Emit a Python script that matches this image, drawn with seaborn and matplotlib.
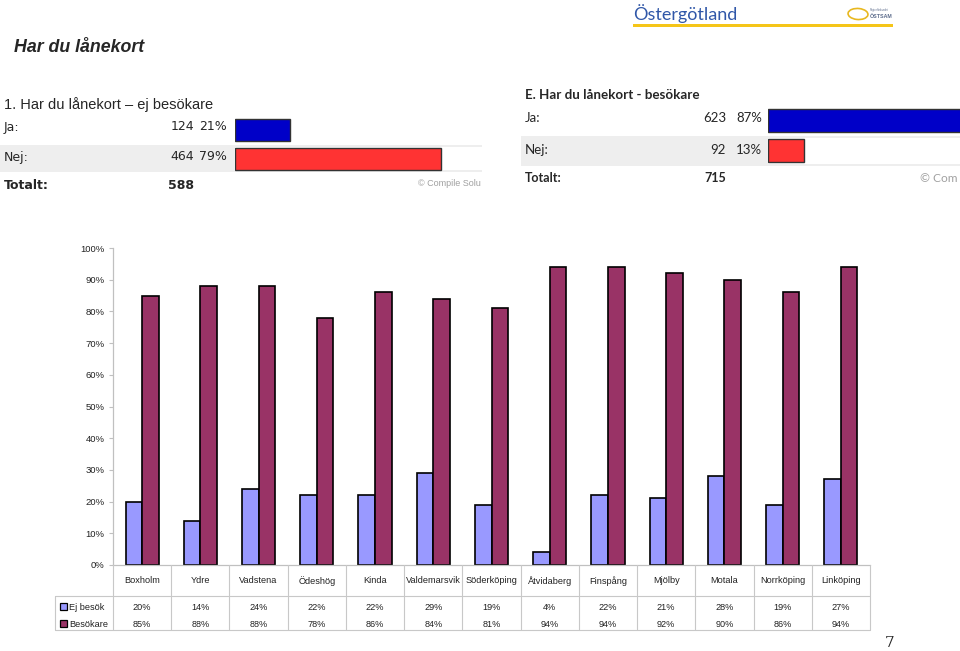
import numpy as np
import pandas as pd
import matplotlib
matplotlib.use("Agg")
import matplotlib.pyplot as plt
from matplotlib.patches import Rectangle, Ellipse
import seaborn as sns

# ---------------- data ----------------
categories = ["Boxholm", "Ydre", "Vadstena", "Ödeshög", "Kinda", "Valdemarsvik",
              "Söderköping", "Åtvidaberg", "Finspång", "Mjölby", "Motala",
              "Norrköping", "Linköping"]
ej_besok = [20, 14, 24, 22, 22, 29, 19, 4, 22, 21, 28, 19, 27]
besokare = [85, 88, 88, 78, 86, 84, 81, 94, 94, 92, 90, 86, 94]
series_names = ["Ej besök", "Besökare"]
series_colors = ["#9999FF", "#993366"]
yticks = [0, 10, 20, 30, 40, 50, 60, 70, 80, 90, 100]

panel1_title = "1. Har du lånekort – ej besökare"
panel1_labels = ["Ja:", "Nej:"]
panel1_counts = [124, 464]
panel1_pct = [21, 79]
panel1_total = 588

panel2_title = "E. Har du lånekort - besökare"
panel2_labels = ["Ja:", "Nej:"]
panel2_counts = [623, 92]
panel2_pct = [87, 13]
panel2_total = 715

mini_colors = ["#0000C8", "#FF3333"]

# ---------------- figure ----------------
sns.set_style("white")
plt.rcParams["font.family"] = ["Liberation Sans", "DejaVu Sans"]
W, H = 960, 651
fig = plt.figure(figsize=(W / 100, H / 100), dpi=100)
fig.patch.set_facecolor("white")


def add_ax(x0, y0, x1, y1, **kw):
    return fig.add_axes([x0 / W, 1 - y1 / H, (x1 - x0) / W, (y1 - y0) / H], **kw)


def ftext(x, y, s, **kw):
    kw.setdefault("va", "center")
    return fig.text(x / W, 1 - y / H, s, **kw)


def frect(x0, y0, x1, y1, color):
    fig.add_artist(Rectangle((x0 / W, 1 - y1 / H), (x1 - x0) / W, (y1 - y0) / H,
                             transform=fig.transFigure, facecolor=color,
                             edgecolor="none", zorder=0))


# ---------------- header ----------------
ftext(14, 47, "Har du lånekort", fontsize=12.8, fontweight="bold", fontstyle="italic")
ftext(633, 14, "Östergötland", fontsize=13, color="#3057A8", family="Lato")
frect(633, 24, 893, 27, "#F5C518")
fig.add_artist(Ellipse((858 / W, 1 - 14 / H), 20 / W, 11 / H, angle=-10,
                       transform=fig.transFigure, facecolor="none",
                       edgecolor="#E8B820", linewidth=1.2))
ftext(870, 16, "ÖSTSAM", fontsize=3.8, color="#5A6A8A", fontweight="bold")
ftext(870, 10, "Regionförbundet", fontsize=1.8, color="#5A6A8A")

# ---------------- panel 1 (left) ----------------
frect(0, 145, 482, 172, "#EEEEEE")
frect(235, 147, 482, 170, "white")
ftext(4, 105, panel1_title, fontsize=10.5)
rows_y1 = [127, 157]
for lab, c, p, yy in zip(panel1_labels, panel1_counts, panel1_pct, rows_y1):
    ftext(4, yy, lab, fontsize=9, family="DejaVu Sans")
    ftext(194, yy, f"{c}", fontsize=9, ha="right", family="DejaVu Sans")
    ftext(227, yy, f"{p}%", fontsize=9, ha="right", family="DejaVu Sans")
ftext(4, 185, "Totalt:", fontsize=9, fontweight="bold", family="DejaVu Sans")
ftext(194, 185, f"{panel1_total}", fontsize=9, fontweight="bold", ha="right",
      family="DejaVu Sans")
ftext(418, 184, "© Compile Solu", fontsize=6.5, color="#A0A0A0")

# mini bars panel 1
bx1 = add_ax(235, 115.5, 235 + 261, 173.5)
df1 = pd.DataFrame({"lab": panel1_labels, "pct": [v / 100 for v in panel1_pct]})
sns.barplot(data=df1, y="lab", x="pct", hue="lab", palette=mini_colors, orient="h",
            width=0.76, saturation=1, edgecolor="#333333", linewidth=1.0, ax=bx1,
            legend=False)
bx1.set_xlim(0, 1)
bx1.set_ylim(1.5, -0.5)
bx1.set_axis_off()
bx1.patch.set_alpha(0)

# ---------------- panel 2 (right) ----------------
frect(521, 136, 960, 166, "#EEEEEE")
frect(768, 138, 960, 164, "white")
ftext(525, 95, panel2_title, fontsize=9.6, fontweight="bold", family="Lato")
rows_y2 = [118, 150]
for lab, c, p, yy in zip(panel2_labels, panel2_counts, panel2_pct, rows_y2):
    ftext(525, yy, lab, fontsize=9.5, family="Lato")
    ftext(726, yy, f"{c}", fontsize=9.5, ha="right", family="Lato")
    ftext(762, yy, f"{p}%", fontsize=9.5, ha="right", family="Lato")
ftext(525, 178, "Totalt:", fontsize=9, fontweight="bold", family="Lato")
ftext(726, 178, f"{panel2_total}", fontsize=9, fontweight="bold", ha="right",
      family="Lato")
ftext(920, 178, "© Com", fontsize=8.6, color="#A0A0A0", family="Lato")

bx2 = add_ax(768, 105.8, 768 + 277, 165.7)
df2 = pd.DataFrame({"lab": panel2_labels, "pct": [v / 100 for v in panel2_pct]})
sns.barplot(data=df2, y="lab", x="pct", hue="lab", palette=mini_colors, orient="h",
            width=0.76, saturation=1, edgecolor="#333333", linewidth=1.0, ax=bx2,
            legend=False)
bx2.set_xlim(0, 1)
bx2.set_ylim(1.5, -0.5)
bx2.set_axis_off()
bx2.patch.set_alpha(0)

# ---------------- main chart ----------------
ax = add_ax(113, 248, 870, 565)
n = len(categories)
df = pd.DataFrame({
    "cat": categories * 2,
    "serie": [series_names[0]] * n + [series_names[1]] * n,
    "val": [v / 100 for v in ej_besok] + [v / 100 for v in besokare],
})
sns.barplot(data=df, x="cat", y="val", hue="serie", order=categories,
            hue_order=series_names, palette=series_colors, width=0.57, gap=0,
            saturation=1, edgecolor="black", linewidth=1.2, ax=ax, legend=False)
ax.set_xlim(-0.5, n - 0.5)
ax.set_ylim(0, 1)
ax.set_yticks([t / 100 for t in yticks])
ax.set_yticklabels([f"{t}%" for t in yticks], fontsize=6.8, color="#222222")
ax.set_xticks([])
ax.set_xlabel("")
ax.set_ylabel("")
for s in ["top", "right"]:
    ax.spines[s].set_visible(False)
for s in ["left", "bottom"]:
    ax.spines[s].set_color("#C0C0C0")
    ax.spines[s].set_linewidth(0.9)
ax.tick_params(axis="y", length=3, width=0.8, color="#C0C0C0", pad=3, left=True)
ax.patch.set_alpha(0)

# ---------------- data table ----------------
ux = 757 / n  # px per category
left_x = -0.5 - (113 - 55) / ux
tab = add_ax(55, 565, 870, 630)
tab.set_xlim(left_x, n - 0.5)
tab.set_ylim(630, 565)
tab.set_axis_off()
lc = "#C8C8C8"
for k in range(n + 1):
    tab.plot([-0.5 + k, -0.5 + k], [565, 630], color=lc, lw=0.8, clip_on=False)
tab.plot([left_x, n - 0.5], [596, 596], color=lc, lw=0.8, clip_on=False)
tab.plot([left_x, n - 0.5], [630, 630], color=lc, lw=0.8, clip_on=False)
tab.plot([left_x, left_x], [596, 630], color=lc, lw=0.8, clip_on=False)
for i, c in enumerate(categories):
    tab.text(i, 581, c, fontsize=6.6, ha="center", va="center", color="#222222")
row_y = [607, 624]
for j, (name, vals) in enumerate(zip(series_names, [ej_besok, besokare])):
    sq_w = 7 / ux
    tab.add_patch(Rectangle((left_x + 5 / ux, row_y[j] - 3.5), sq_w, 7,
                            facecolor=series_colors[j], edgecolor="black", lw=0.9,
                            clip_on=True))
    tab.text(left_x + 14 / ux, row_y[j] + 0.5, name, fontsize=6.6, ha="left",
             va="center", color="#222222", clip_on=True)
    for i, v in enumerate(vals):
        tab.text(i, row_y[j] + 0.5, f"{v}%", fontsize=6.6, ha="center", va="center",
                 color="#222222", clip_on=True)

# page number
ftext(890, 643, "7", fontsize=11, family="DejaVu Serif", ha="center")

fig.savefig("out.png", dpi=100, facecolor="white")
